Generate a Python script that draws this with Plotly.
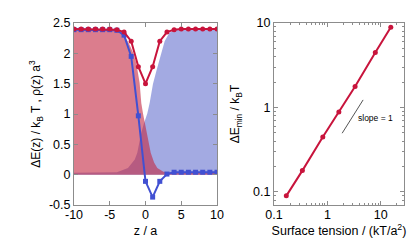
import plotly.graph_objects as go

# ---- Left panel data ----
z = list(range(-10, 11))
dE_red = [2.4, 2.4, 2.4, 2.4, 2.4, 2.4, 2.39, 2.35, 2.2, 1.78, 1.5,
          1.78, 2.2, 2.35, 2.39, 2.4, 2.4, 2.4, 2.4, 2.4, 2.4]
dE_blue = [2.39, 2.39, 2.39, 2.39, 2.39, 2.39, 2.38, 2.3, 1.95, 0.97, -0.11,
           -0.37, -0.11, 0.01, 0.04, 0.04, 0.04, 0.04, 0.04, 0.04, 0.04]

z_rho_red = [-10, -5, -3.85, -3, -2.35, -1.8, -1.29, -0.82, -0.59, -0.35, -0.1,
             0.25, 0.73, 1.2, 1.65, 2.5, 4, 10]
rho_red = [2.4, 2.4, 2.39, 2.3, 2.17, 2.03, 1.84, 1.51, 1.18, 1.01, 0.85,
           0.69, 0.36, 0.2, 0.11, 0.05, 0.03, 0.03]
z_rho_blue = [-10, -4, -2.45, -1.5, -1.15, -0.59, -0.2, 0.25, 0.58, 1.05, 1.5,
              2.0, 2.68, 3.3, 4.1, 10]
rho_blue = [0.03, 0.04, 0.11, 0.25, 0.36, 0.69, 0.85, 1.01, 1.18, 1.5, 1.7,
            1.92, 2.2, 2.33, 2.4, 2.4]

left_yticks = [-0.5, 0, 0.5, 1, 1.5, 2, 2.5]
left_yticklabels = ["-0.5", "0", "0.5", "1", "1.5", "2", "2.5"]
left_xticks = [-10, -5, 0, 5, 10]
left_xticklabels = ["-10", "-5", "0", "5", "10"]

# ---- Right panel data ----
sigma = [0.17, 0.34, 0.82, 1.64, 3.3, 7.9, 15.4]
E_min = [0.09, 0.179, 0.447, 0.887, 1.77, 4.48, 8.9]
slope_x = [1.89, 4.67]
slope_y = [0.496, 1.23]
slope_label = "slope = 1"
log_ticks = [0.1, 1, 10]
log_ticklabels = ["0.1", "1", "10"]

RED = "rgb(200,20,60)"
BLUE = "rgb(65,80,210)"
AX = "rgb(140,140,140)"
FONT = "Liberation Sans"
TICK_SIZE = 12.5
XTITLE_SIZE = 12.5
YTITLE_SIZE = 12

fig = go.Figure()

fig.add_trace(go.Scatter(x=z_rho_blue, y=rho_blue, mode="lines", line=dict(width=0, color="rgba(0,0,0,0)"),
                         fill="tozeroy", fillcolor="rgba(102,113,207,0.6)", xaxis="x", yaxis="y",
                         showlegend=False, hoverinfo="skip"))
fig.add_trace(go.Scatter(x=z_rho_red, y=rho_red, mode="lines", line=dict(width=0, color="rgba(0,0,0,0)"),
                         fill="tozeroy", fillcolor="rgba(195,38,65,0.6)", xaxis="x", yaxis="y",
                         showlegend=False, hoverinfo="skip"))
fig.add_trace(go.Scatter(x=z, y=dE_blue, mode="lines+markers", line=dict(color=BLUE, width=2),
                         marker=dict(symbol="square", size=5, color=BLUE), xaxis="x", yaxis="y",
                         showlegend=False))
fig.add_trace(go.Scatter(x=z, y=dE_red, mode="lines+markers", line=dict(color=RED, width=2),
                         marker=dict(symbol="circle", size=5, color=RED), xaxis="x", yaxis="y",
                         showlegend=False))

fig.add_trace(go.Scatter(x=sigma, y=E_min, mode="lines+markers", line=dict(color=RED, width=2),
                         marker=dict(symbol="circle", size=5, color=RED), xaxis="x2", yaxis="y2",
                         showlegend=False))
fig.add_trace(go.Scatter(x=slope_x, y=slope_y, mode="lines", line=dict(color="rgb(40,40,40)", width=0.8),
                         xaxis="x2", yaxis="y2", showlegend=False))

fig.add_annotation(x=0.54, y=-0.123, xref="x2", yref="y2", text=slope_label, showarrow=False,
                   xanchor="left", yanchor="middle", font=dict(size=8.5, family=FONT, color="black"))

common = dict(showline=True, linecolor=AX, linewidth=1, mirror="ticks", ticks="inside",
              ticklen=4, tickcolor=AX, showgrid=False, zeroline=False, automargin=False,
              tickfont=dict(size=TICK_SIZE, family=FONT, color="black"))

fig.update_layout(
    width=415, height=249, margin=dict(l=0, r=0, t=0, b=0),
    paper_bgcolor="white", plot_bgcolor="white",
    font=dict(family=FONT, size=12, color="black"),
    xaxis=dict(domain=[66/415, 209/415], range=[-10, 10], tickvals=left_xticks,
               ticktext=left_xticklabels, anchor="y", ticklabelstandoff=-2,
               title=dict(text="z / a", standoff=5, font=dict(size=XTITLE_SIZE)), **common),
    yaxis=dict(domain=[52/249, 234/249], range=[-0.5, 2.5], tickvals=left_yticks,
               ticktext=left_yticklabels, anchor="x",
               title=dict(text="ΔE(z) / k<sub>B</sub> T , ρ(z) a<sup>3</sup>", standoff=5,
                          font=dict(size=YTITLE_SIZE)), **common),
    xaxis2=dict(domain=[266/415, 396/415], type="log", range=[-1, 1.435], tickvals=log_ticks,
                ticktext=log_ticklabels, anchor="y2", ticklabelstandoff=-2,
                minor=dict(tickvals=[0.2, 0.3, 0.4, 0.5, 0.6, 0.7, 0.8, 0.9, 2, 3, 4, 5, 6, 7, 8, 9, 20],
                           ticks="inside", ticklen=2, tickcolor=AX),
                title=dict(text="Surface tension / (kT/a<sup>2</sup>)", standoff=5, font=dict(size=XTITLE_SIZE)),
                **common),
    yaxis2=dict(domain=[52/249, 234/249], type="log", range=[-1.154, 1], tickvals=log_ticks,
                ticktext=log_ticklabels, anchor="x2",
                minor=dict(tickvals=[0.08, 0.09, 0.2, 0.3, 0.4, 0.5, 0.6, 0.7, 0.8, 0.9, 2, 3, 4, 5, 6, 7, 8, 9],
                           ticks="inside", ticklen=2, tickcolor=AX),
                title=dict(text="ΔE<sub>min</sub> / k<sub>B</sub>T", standoff=10, font=dict(size=YTITLE_SIZE)),
                **common),
)

fig.write_html("out.html")
